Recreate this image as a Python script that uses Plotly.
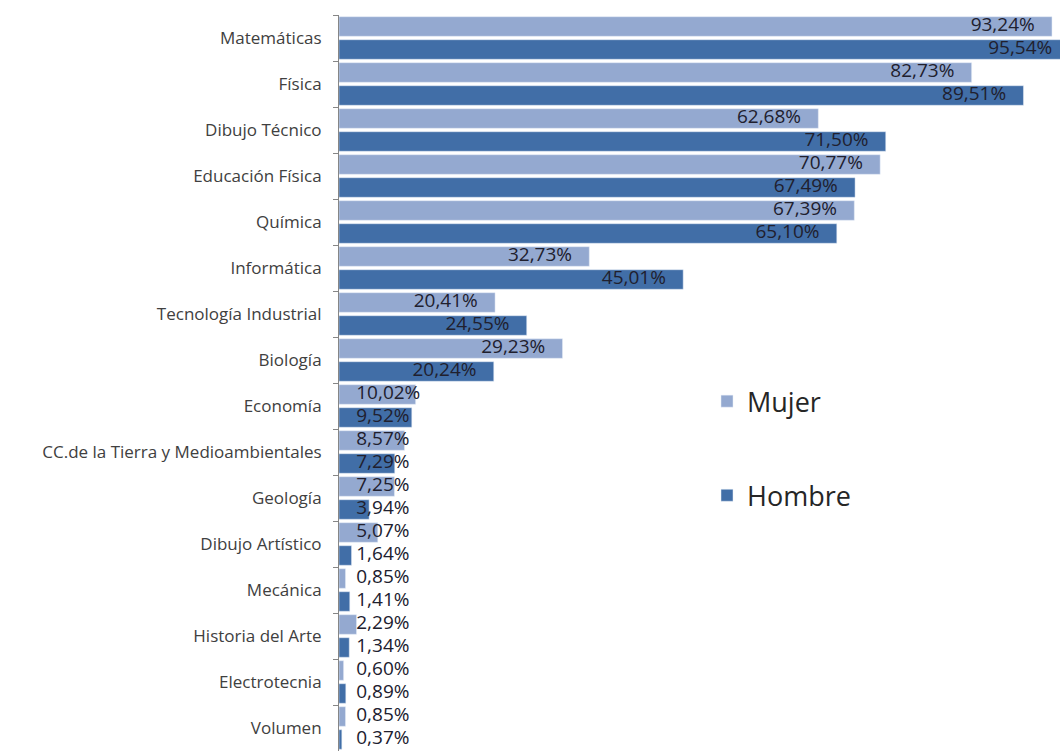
import plotly.graph_objects as go

# Datos (porcentaje de alumnado que cursa cada asignatura)
CATEGORIAS = [
    "Matemáticas", "Física", "Dibujo Técnico", "Educación Física", "Química",
    "Informática", "Tecnología Industrial", "Biología", "Economía",
    "CC.de la Tierra y Medioambientales", "Geología", "Dibujo Artístico",
    "Mecánica", "Historia del Arte", "Electrotecnia", "Volumen",
]
MUJER = [93.24, 82.73, 62.68, 70.77, 67.39, 32.73, 20.41, 29.23,
         10.02, 8.57, 7.25, 5.07, 0.85, 2.29, 0.60, 0.85]
HOMBRE = [95.54, 89.51, 71.50, 67.49, 65.10, 45.01, 24.55, 20.24,
          9.52, 7.29, 3.94, 1.64, 1.41, 1.34, 0.89, 0.37]

COLOR_MUJER = "#94A9D0"
COLOR_HOMBRE = "#416EA7"
FONT = "Open Sans"
UMBRAL = 15  # por debajo de esto la etiqueta se pega al eje, como en Excel


def etiqueta(v):
    return f"{v:.2f}".replace(".", ",") + "%"


def capa_texto(valores, grupo):
    # marcador invisible: su radio da el margen de la etiqueta respecto al extremo
    return go.Scatter(
        x=[v if v >= UMBRAL else 0 for v in valores], y=CATEGORIAS,
        orientation="h", mode="markers+text",
        text=[etiqueta(v) for v in valores],
        textposition=["middle left" if v >= UMBRAL else "middle right" for v in valores],
        textfont=dict(family=FONT, size=19, color="#20202e"),
        marker=dict(size=26, color="rgba(0,0,0,0)"),
        offsetgroup=grupo, alignmentgroup="txt",
        showlegend=False, hoverinfo="skip", cliponaxis=False,
    )


fig = go.Figure()
fig.add_trace(go.Bar(x=MUJER, y=CATEGORIAS, orientation="h", name="Mujer",
                     marker_color=COLOR_MUJER, legendgroup="m"))
fig.add_trace(go.Bar(x=HOMBRE, y=CATEGORIAS, orientation="h", name="Hombre",
                     marker_color=COLOR_HOMBRE, legendgroup="h"))
fig.add_trace(capa_texto(MUJER, "m"))
fig.add_trace(capa_texto(HOMBRE, "h"))

# el original está recortado por la derecha: la figura es algo más ancha que la ventana
fig.update_layout(
    width=1075, height=752,
    margin=dict(l=339, r=0, t=15, b=1),
    paper_bgcolor="white", plot_bgcolor="white",
    barmode="group", bargap=0, bargroupgap=0.15,
    scattermode="group", scattergap=0,
    font=dict(family=FONT, color="#404040"),
    legend=dict(x=0.50, y=0.508, xanchor="left", yanchor="top",
                font=dict(size=27, color="#262626"),
                traceorder="grouped", tracegroupgap=56,
                bgcolor="rgba(0,0,0,0)"),
)
fig.update_xaxes(visible=False, range=[0, 96.25])
fig.update_yaxes(
    autorange="reversed", showline=True, linecolor="#868686", linewidth=1,
    ticks="outside", ticklen=5, tickcolor="#868686", tickson="boundaries",
    ticklabelstandoff=13, tickfont=dict(size=17, color="#404040"),
    showgrid=False,
)

# sin el margen por defecto del <body>, para que la figura ocupe la ventana exacta
fig.write_html("out.html", config={"displayModeBar": False},
               post_script="document.body.style.margin='0';document.body.style.overflow='hidden';")
